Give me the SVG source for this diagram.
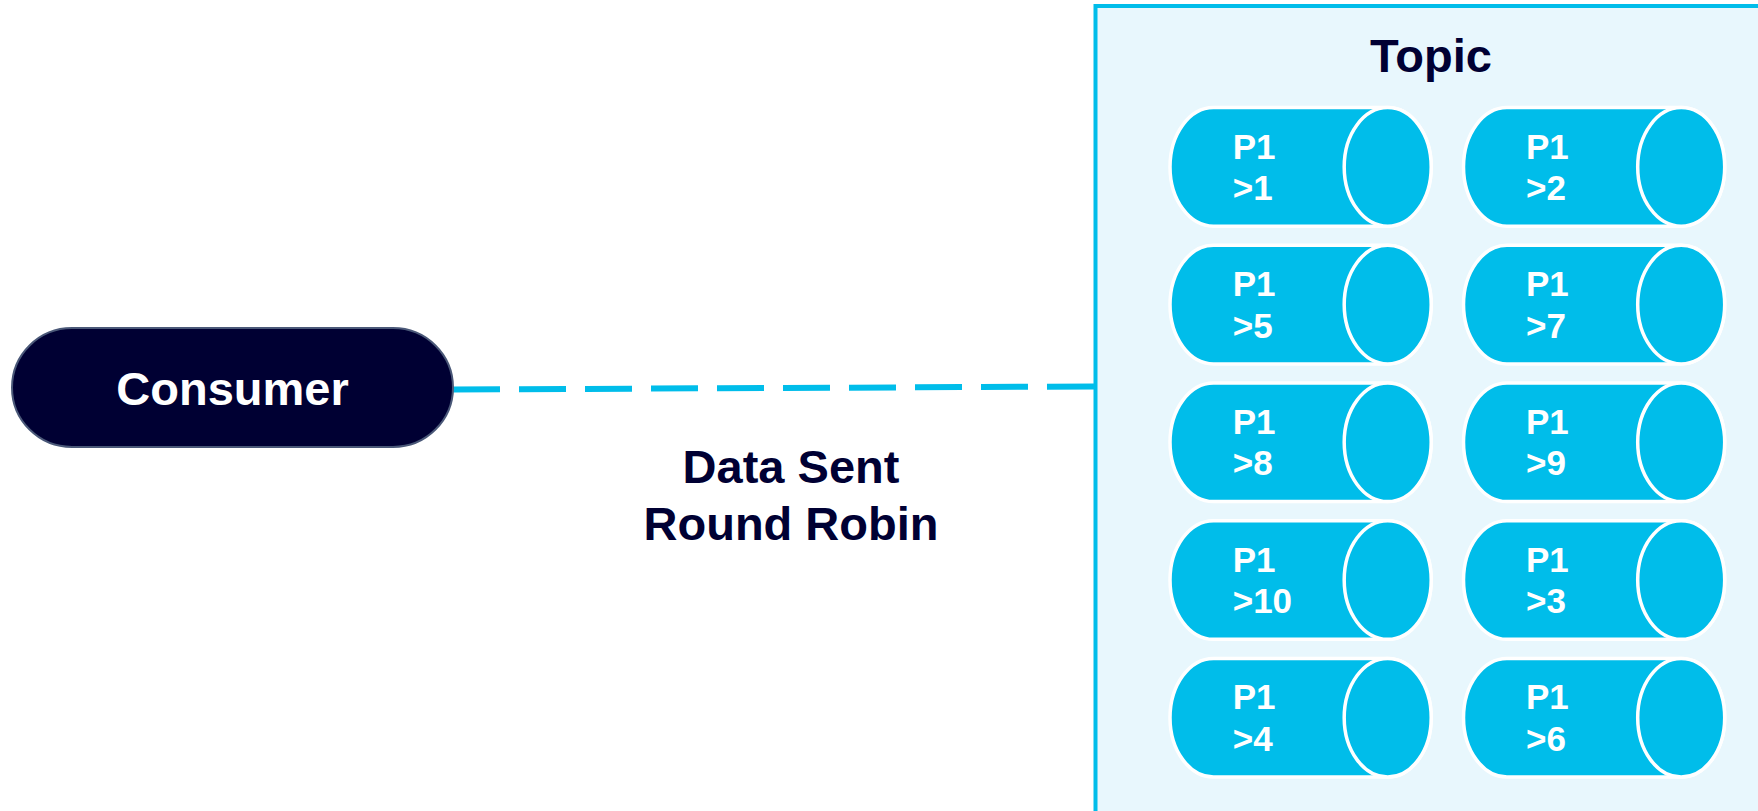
<svg xmlns="http://www.w3.org/2000/svg" width="1758" height="811" viewBox="0 0 1758 811">
  <style>
    .label { font-family: "Liberation Sans", Arial, sans-serif; font-weight: bold; }
    .dark { fill: #000033; }
    .cyl-body { fill: #00BDEA; stroke: #FFFFFF; stroke-width: 3.5; }
    .cyl-text { fill: #FFFFFF; font-size: 35px; }
  </style>
  <defs>
    <!-- horizontal cylinder centred on its front face at (0,0) -->
    <g id="cylinder">
      <path class="cyl-body" d="M -174.2,-59.3 L 0,-59.3 A 43.5 59.3 0 0 1 0,59.3 L -174.2,59.3 A 43.5 59.3 0 0 1 -174.2,-59.3 Z"/>
      <ellipse class="cyl-body" cx="0" cy="0" rx="43.5" ry="59.3"/>
    </g>
  </defs>

  <rect width="1758" height="811" fill="#FFFFFF"/>

  <!-- connectors -->
  <g id="connectors">
    <line x1="453" y1="389.5" x2="1094" y2="386.5" stroke="#00BDEA" stroke-width="6" stroke-dasharray="47 19"/>
  </g>

  <!-- topic container -->
  <g id="topic">
    <rect x="1095.5" y="6" width="720" height="900" fill="#E8F7FD" stroke="#00BDEA" stroke-width="4"/>
    <text class="label dark" x="1431" y="72" font-size="47" text-anchor="middle">Topic</text>
  </g>

  <!-- consumer -->
  <g id="consumer">
    <rect x="12" y="328" width="441" height="119" rx="60" ry="59.5" fill="#000033" stroke="#4A5878" stroke-width="2"/>
    <text class="label" x="232.5" y="405" font-size="47" fill="#FFFFFF" text-anchor="middle">Consumer</text>
  </g>

  <!-- edge label -->
  <g id="label-round-robin">
    <text class="label dark" x="791" y="483" font-size="47" text-anchor="middle">Data Sent</text>
    <text class="label dark" x="791" y="540" font-size="47" text-anchor="middle">Round Robin</text>
  </g>

  <!-- partitions: column 1 -->
  <g id="partition-1">
    <use href="#cylinder" x="1387.7" y="166.9"/>
    <text class="label cyl-text" x="1232.7" y="158.5">P1</text>
    <text class="label cyl-text" x="1232.7" y="200">&gt;1</text>
  </g>
  <g id="partition-5">
    <use href="#cylinder" x="1387.7" y="304.6"/>
    <text class="label cyl-text" x="1232.7" y="296.2">P1</text>
    <text class="label cyl-text" x="1232.7" y="337.7">&gt;5</text>
  </g>
  <g id="partition-8">
    <use href="#cylinder" x="1387.7" y="442.3"/>
    <text class="label cyl-text" x="1232.7" y="433.9">P1</text>
    <text class="label cyl-text" x="1232.7" y="475.4">&gt;8</text>
  </g>
  <g id="partition-10">
    <use href="#cylinder" x="1387.7" y="580"/>
    <text class="label cyl-text" x="1232.7" y="571.6">P1</text>
    <text class="label cyl-text" x="1232.7" y="613.1">&gt;10</text>
  </g>
  <g id="partition-4">
    <use href="#cylinder" x="1387.7" y="717.7"/>
    <text class="label cyl-text" x="1232.7" y="709.3">P1</text>
    <text class="label cyl-text" x="1232.7" y="750.8">&gt;4</text>
  </g>

  <!-- partitions: column 2 -->
  <g id="partition-2">
    <use href="#cylinder" x="1681.2" y="166.9"/>
    <text class="label cyl-text" x="1526" y="158.5">P1</text>
    <text class="label cyl-text" x="1526" y="200">&gt;2</text>
  </g>
  <g id="partition-7">
    <use href="#cylinder" x="1681.2" y="304.6"/>
    <text class="label cyl-text" x="1526" y="296.2">P1</text>
    <text class="label cyl-text" x="1526" y="337.7">&gt;7</text>
  </g>
  <g id="partition-9">
    <use href="#cylinder" x="1681.2" y="442.3"/>
    <text class="label cyl-text" x="1526" y="433.9">P1</text>
    <text class="label cyl-text" x="1526" y="475.4">&gt;9</text>
  </g>
  <g id="partition-3">
    <use href="#cylinder" x="1681.2" y="580"/>
    <text class="label cyl-text" x="1526" y="571.6">P1</text>
    <text class="label cyl-text" x="1526" y="613.1">&gt;3</text>
  </g>
  <g id="partition-6">
    <use href="#cylinder" x="1681.2" y="717.7"/>
    <text class="label cyl-text" x="1526" y="709.3">P1</text>
    <text class="label cyl-text" x="1526" y="750.8">&gt;6</text>
  </g>
</svg>
